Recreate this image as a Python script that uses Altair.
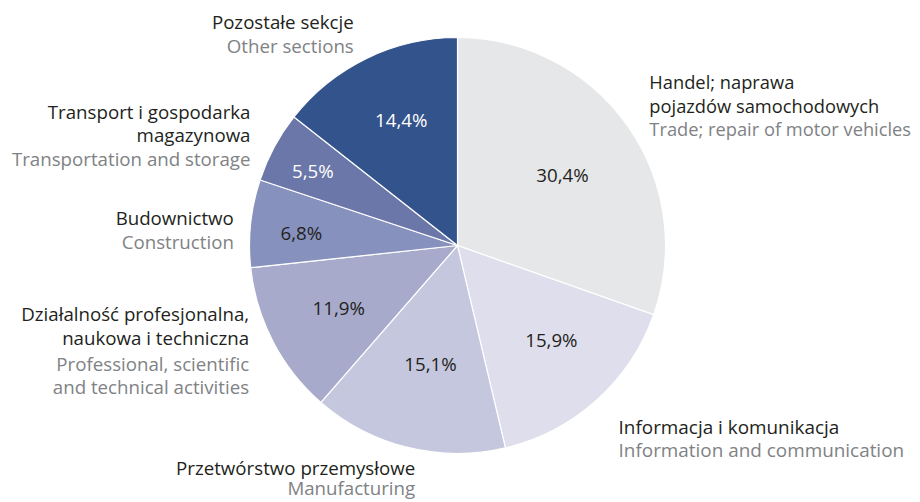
import altair as alt
import pandas as pd

# ---- data ----
categories = [
    "Handel; naprawa pojazdów samochodowych",
    "Informacja i komunikacja",
    "Przetwórstwo przemysłowe",
    "Działalność profesjonalna, naukowa i techniczna",
    "Budownictwo",
    "Transport i gospodarka magazynowa",
    "Pozostałe sekcje",
]
labels_pl = [
    "Handel; naprawa\npojazdów samochodowych",
    "Informacja i komunikacja",
    "Przetwórstwo przemysłowe",
    "Działalność profesjonalna,\nnaukowa i techniczna",
    "Budownictwo",
    "Transport i gospodarka\nmagazynowa",
    "Pozostałe sekcje",
]
labels_en = [
    "Trade; repair of motor vehicles",
    "Information and communication",
    "Manufacturing",
    "Professional, scientific\nand technical activities",
    "Construction",
    "Transportation and storage",
    "Other sections",
]
shares = [30.4, 15.9, 15.1, 11.9, 6.8, 5.5, 14.4]
pct_labels = ["30,4%", "15,9%", "15,1%", "11,9%", "6,8%", "5,5%", "14,4%"]

# ---- styles / layout ----
colors = ["#e6e7e8", "#dedeec", "#c5c7de", "#a7aacb", "#8791bd", "#6a77a8", "#33538c"]
pct_colors = ["#231f20", "#231f20", "#231f20", "#231f20", "#231f20", "#ffffff", "#ffffff"]
# percentage label layout: radius, dx, dy
pct_layout = [
    (125, 3, 3),
    (133, 5, -3),
    (121, 2, 2),
    (134, 0, 1.5),
    (157, 0, 5),
    (163, -1, 4),
    (138, 4, -0.5),
]
# category label layout: align, dx, dy (first Polish line), dy (first English line), font size
label_layout = [
    ("left", 0, -25.5, 21.5, 18.3),
    ("left", 4, 8, 31, 18.9),
    ("right", 14, -5, 15.5, 18.7),
    ("right", 0, -39, 10.5, 18.7),
    ("right", 10, -1.5, 22.5, 18.7),
    ("right", 0, -21.5, 25.5, 18.7),
    ("right", -1, -11.5, 12.5, 18.7),
]
FONT = "Open Sans"
FS = 18.7
LH = 23.5

df = pd.DataFrame({
    "cat": categories,
    "idx": list(range(len(categories))),
    "share": shares,
    "pct": pct_labels,
    "pl": labels_pl,
    "en": labels_en,
})
df["mid"] = df["share"].cumsum() - df["share"] / 2

theta_scale = alt.Scale(domain=[0, 100])

arcs = alt.Chart(df).mark_arc(radius=208, stroke="white", strokeWidth=1.2).encode(
    theta=alt.Theta("share:Q", stack=True, scale=theta_scale),
    color=alt.Color("cat:N", scale=alt.Scale(domain=categories, range=colors), legend=None),
    order=alt.Order("idx:Q"),
)

layers = [arcs]
for i, cat in enumerate(categories):
    sub = alt.Chart(df).transform_filter(alt.datum.cat == cat)
    r, pdx, pdy = pct_layout[i]
    layers.append(
        sub.mark_text(radius=r, dx=pdx, dy=pdy, font=FONT, fontSize=FS, color=pct_colors[i],
                      baseline="middle", align="center").encode(
            theta=alt.Theta("mid:Q", stack=False, scale=theta_scale),
            text="pct:N",
        )
    )
    align, dx, dy_pl, dy_en, fs = label_layout[i]
    layers.append(
        sub.mark_text(radius=235, font=FONT, fontSize=fs, color="#231f20", align=align,
                      baseline="middle", dx=dx, dy=dy_pl, lineBreak="\n", lineHeight=LH).encode(
            theta=alt.Theta("mid:Q", stack=False, scale=theta_scale),
            text="pl:N",
        )
    )
    layers.append(
        sub.mark_text(radius=235, font=FONT, fontSize=fs, color="#808285", align=align,
                      baseline="middle", dx=dx, dy=dy_en, lineBreak="\n", lineHeight=LH).encode(
            theta=alt.Theta("mid:Q", stack=False, scale=theta_scale),
            text="en:N",
        )
    )

chart = alt.layer(*layers).properties(
    width=899,
    height=475,
    autosize=alt.AutoSizeParams(type="none"),
    padding={"left": 0, "top": 0, "right": 5, "bottom": 16},
).configure_view(stroke=None)

chart.save("out.html", embed_options={"renderer": "svg", "actions": False})
